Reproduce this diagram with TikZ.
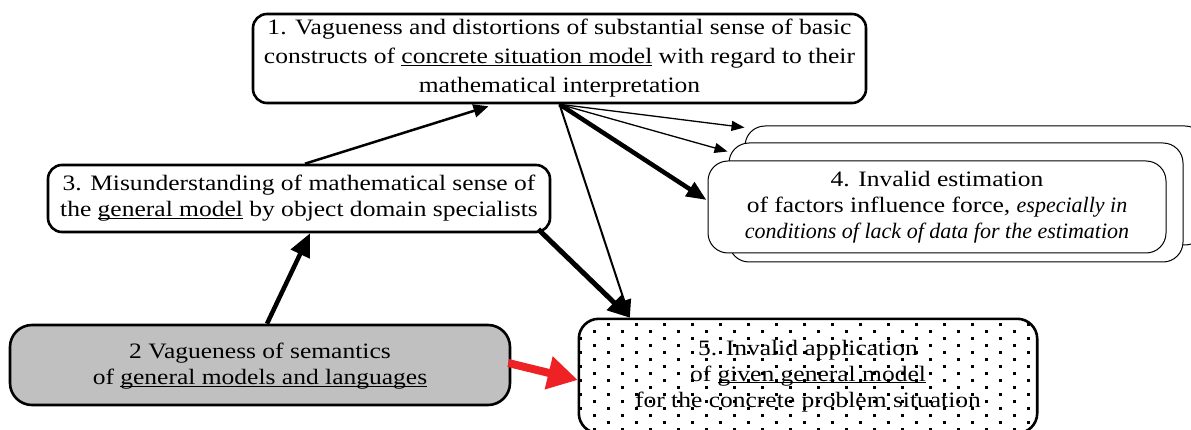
\documentclass[tikz,border=0pt]{standalone}
\usepackage{fontspec}
\setmainfont[FakeStretch=1.16]{Liberation Serif}
\newfontfamily\itnarrow{Liberation Serif Italic}
\newcommand\myul[1]{\underline{\smash{#1}}}
\usetikzlibrary{arrows.meta,calc}
\definecolor{boxgray}{HTML}{C0C0C0}
\definecolor{arrowred}{HTML}{EE2224}
\tikzset{
  mainbox/.style={draw, rounded corners=14pt, line width=2.6pt, align=center, inner sep=0pt},
  stackbox/.style={draw, fill=white, rounded corners=20pt, line width=1pt, inner sep=0pt, align=center},
  txt/.style={font=\fontsize{22}{26}\selectfont},
}
\begin{document}
\begin{tikzpicture}[x=1pt,y=-1pt]
\useasboundingbox (0,0) rectangle (1191,430);

% node 4 stack
\node[stackbox, minimum width=460pt, minimum height=119pt] (n4a) at (975,185.5) {};
\node[stackbox, minimum width=454pt, minimum height=119pt] (n4b) at (956,202.5) {};
\node[stackbox, minimum width=458pt, minimum height=92pt, txt] (n4) at (937,207)
  {4. Invalid estimation\\ of factors influence force, {\itnarrow especially in}\\ {\itnarrow conditions of lack of data for the estimation}};

% node 1
\node[mainbox, minimum width=613pt, minimum height=89pt, font=\fontsize{22}{29}\selectfont] (n1) at (559.5,58.5)
  {1. Vagueness and distortions of substantial sense of basic\\ constructs of \myul{concrete situation model} with regard to their\\ mathematical interpretation};

% node 3
\node[mainbox, minimum width=502pt, minimum height=67pt, txt] (n3) at (299,198.5)
  {3. Misunderstanding of mathematical sense of\\ the \myul{general model} by object domain specialists};

% node 2
\node[mainbox, fill=boxgray, rounded corners=22pt, minimum width=500pt, minimum height=80pt, txt] (n2) at (260,365)
  {2 Vagueness of semantics\\ of \myul{general models and languages}};

% node 5
\node[minimum width=458pt, minimum height=114pt, inner sep=0pt] (n5) at (808,376) {};
\begin{scope}
  \clip[rounded corners=20pt] (n5.south west) rectangle (n5.north east);
  \foreach \r in {0,...,16} {
    \foreach \c in {0,...,17} {
      \fill ({580.7+28*\c+14*mod(\r,2)-1.5},{324+7*\r-1.5}) rectangle ++(3,3);
    }
  }
\end{scope}
\draw[line width=2.6pt, rounded corners=20pt] (n5.south west) rectangle (n5.north east);
\node[txt, align=center] (n5t) at (n5.center)
  {5. Invalid application\\ of \myul{given general model}\\ for the concrete problem situation};

% connectors
\draw[line width=1.3pt, -{Triangle[length=13pt,width=10pt]}] (n1.south) -- ($(n4a.north west)+(0,2)$);
\draw[line width=1.3pt, -{Triangle[length=13pt,width=10pt]}] (n1.south) -- ($(n4b.north west)+(-1,9)$);
\draw[line width=4.5pt, -{Triangle[length=20pt,width=16pt]}] (n1.south) -- ($(n4.west)+(-1,-7)$);
\draw[line width=2pt, -{Triangle[length=18pt,width=14pt]}] (n1.south) -- ($(n5.north west)+(51,-1)$);
\draw[line width=5pt, -{Triangle[length=22pt,width=20pt]}] ($(n3.south east)+(-13,-4)$) -- ($(n5.north west)+(51,-1)$);
\draw[line width=2.5pt, -{Triangle[length=15pt,width=13pt]}] ($(n3.north)+(6,0)$) -- ($(n1.south)+(-71,2)$);
\draw[line width=4.5pt, -{Triangle[length=23pt,width=20pt]}] ($(n2.north)+(7,0)$) -- ($(n3.south)+(11,0)$);
\draw[arrowred, line width=8pt, -{Triangle[length=30pt,width=32pt]}] ($(n2.east)+(-3,-2)$) -- ($(n5.west)+(-1,4)$);
\end{tikzpicture}
\end{document}
